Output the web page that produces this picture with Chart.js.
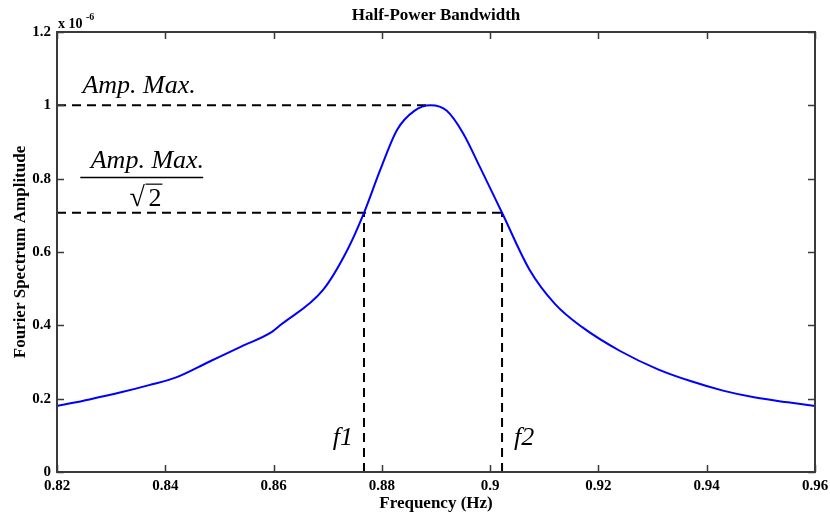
<!DOCTYPE html>
<html>
<head>
<meta charset="utf-8">
<script src="https://cdn.jsdelivr.net/npm/chart.js@4.4.0/dist/chart.umd.min.js"></script>
<style>
  html, body { margin: 0; padding: 0; background: #fff; }
  #wrap { width: 830px; height: 517px; }
</style>
</head>
<body>
<div id="wrap"><canvas id="chartHalfPower"></canvas></div>
<script>
// frequency (Hz) and amplitude (x 1e-6)
const freq = [0.82, 0.826, 0.832, 0.837, 0.842, 0.848, 0.854, 0.8597, 0.8612, 0.8691, 0.8736, 0.8767, 0.8797, 0.8828, 0.886, 0.889, 0.892, 0.895, 0.8981, 0.9022, 0.9073, 0.912, 0.917, 0.924, 0.931, 0.937, 0.943, 0.949, 0.955, 0.96];
const amp = [0.18, 0.198, 0.218, 0.237, 0.258, 0.300, 0.342, 0.382, 0.40, 0.496, 0.605, 0.707, 0.824, 0.933, 0.985, 1.0, 0.985, 0.924, 0.832, 0.707, 0.551, 0.458, 0.395, 0.330, 0.280, 0.248, 0.222, 0.203, 0.190, 0.18];

const ampMax = 1.0;
const fPeak = 0.889;
const halfPower = 0.707;
const f1 = 0.8767;
const f2 = 0.9022;

const xTicks = [0.82, 0.84, 0.86, 0.88, 0.9, 0.92, 0.94, 0.96];
const xTickLabels = ['0.82', '0.84', '0.86', '0.88', '0.9', '0.92', '0.94', '0.96'];
const yTicks = [0, 0.2, 0.4, 0.6, 0.8, 1, 1.2];
const yTickLabels = ['0', '0.2', '0.4', '0.6', '0.8', '1', '1.2'];

const serif = '"Liberation Serif", "Times New Roman", serif';

const curve = freq.map((f, i) => ({x: f, y: amp[i]}));
const dashed = (pts) => ({
    data: pts,
    borderColor: '#000',
    borderWidth: 2,
    borderDash: [9, 6],
    pointRadius: 0,
    tension: 0,
    fill: false
});

// frame, inward ticks and text labels in MATLAB style
const matlabPlugin = {
    id: 'matlabPlugin',
    afterDraw(chart) {
        const {ctx, chartArea: a, scales: {x, y}} = chart;
        ctx.save();
        ctx.strokeStyle = '#3a3a3a';
        ctx.lineWidth = 2;
        ctx.strokeRect(a.left, a.top, a.right - a.left, a.bottom - a.top);
        ctx.lineWidth = 1.5;
        ctx.beginPath();
        xTicks.forEach(v => {
            const px = Math.round(x.getPixelForValue(v)) + 0.5;
            ctx.moveTo(px, a.bottom); ctx.lineTo(px, a.bottom - 7);
            ctx.moveTo(px, a.top); ctx.lineTo(px, a.top + 7);
        });
        yTicks.forEach(v => {
            const py = Math.round(y.getPixelForValue(v)) + 0.5;
            ctx.moveTo(a.left, py); ctx.lineTo(a.left + 7, py);
            ctx.moveTo(a.right, py); ctx.lineTo(a.right - 7, py);
        });
        ctx.stroke();

        ctx.fillStyle = '#000';
        // title
        ctx.font = 'bold 17px ' + serif;
        ctx.textAlign = 'center';
        ctx.textBaseline = 'alphabetic';
        ctx.fillText('Half-Power Bandwidth', (a.left + a.right) / 2, 20);

        // exponent label
        ctx.textAlign = 'left';
        ctx.font = 'bold 14px ' + serif;
        ctx.fillText('x 10', a.left + 1, a.top - 4);
        ctx.font = 'bold 10px ' + serif;
        ctx.fillText('-6', a.left + 29, a.top - 12);

        // annotations
        ctx.font = 'italic 26px ' + serif;
        ctx.fillText('Amp. Max.', x.getPixelForValue(0.8247), y.getPixelForValue(1.035));

        ctx.textAlign = 'center';
        const cx = x.getPixelForValue(0.8367);
        ctx.fillText('Amp. Max.', cx, y.getPixelForValue(0.83));
        const lineY = Math.round(y.getPixelForValue(0.805)) + 0.5;
        ctx.lineWidth = 1.5;
        ctx.strokeStyle = '#000';
        ctx.beginPath();
        ctx.moveTo(x.getPixelForValue(0.8243), lineY);
        ctx.lineTo(x.getPixelForValue(0.8470), lineY);
        ctx.stroke();
        ctx.font = '28px ' + serif;
        const base2 = y.getPixelForValue(0.725);
        ctx.textAlign = 'left';
        ctx.fillText('\u221A', cx - 18, base2);
        ctx.font = '26px ' + serif;
        ctx.fillText('2', cx + 1, base2);
        ctx.lineWidth = 1.2;
        ctx.beginPath();
        ctx.moveTo(cx - 2, base2 - 22);
        ctx.lineTo(cx + 15, base2 - 22);
        ctx.stroke();

        ctx.font = 'italic 26px ' + serif;
        ctx.textAlign = 'right';
        ctx.fillText('f1', x.getPixelForValue(f1) - 11, y.getPixelForValue(0.075));
        ctx.textAlign = 'left';
        ctx.fillText('f2', x.getPixelForValue(f2) + 12, y.getPixelForValue(0.075));
        ctx.restore();
    }
};

const ctx = document.getElementById('chartHalfPower');

new Chart(ctx, {
    type: 'line',
    data: {
        datasets: [
            {
                data: curve,
                borderColor: '#0000ff',
                borderWidth: 2,
                pointRadius: 0,
                cubicInterpolationMode: 'monotone',
                fill: false
            },
            dashed([{x: 0.82, y: ampMax}, {x: fPeak, y: ampMax}]),
            dashed([{x: 0.82, y: halfPower}, {x: f2, y: halfPower}]),
            dashed([{x: f1, y: 0}, {x: f1, y: halfPower}]),
            dashed([{x: f2, y: 0}, {x: f2, y: halfPower}])
        ]
    },
    options: {
        responsive: true,
        maintainAspectRatio: false,
        animation: false,
        layout: {
            padding: {top: 32, right: 15, left: 0, bottom: 0}
        },
        plugins: {
            legend: {display: false},
            tooltip: {enabled: false},
            title: {display: false}
        },
        scales: {
            x: {
                type: 'linear',
                min: 0.82,
                max: 0.96,
                afterBuildTicks: (scale) => { scale.ticks = xTicks.map(v => ({value: v})); },
                afterFit: (scale) => { scale.height = 45; scale.paddingLeft = 0; scale.paddingRight = 0; },
                grid: {display: false, drawTicks: false},
                border: {display: false},
                ticks: {
                    color: '#000',
                    padding: 5,
                    maxRotation: 0,
                    font: {family: serif, size: 15, weight: 'bold'},
                    callback: (v) => xTickLabels[xTicks.indexOf(v)]
                },
                title: {
                    display: true,
                    text: 'Frequency (Hz)',
                    color: '#000',
                    padding: {top: 0, bottom: 3},
                    font: {family: serif, size: 17, weight: 'bold'}
                }
            },
            y: {
                min: 0,
                max: 1.2,
                afterBuildTicks: (scale) => { scale.ticks = yTicks.map(v => ({value: v})); },
                afterFit: (scale) => { scale.width = 57; scale.paddingTop = 0; scale.paddingBottom = 0; },
                grid: {display: false, drawTicks: false},
                border: {display: false},
                ticks: {
                    color: '#000',
                    padding: 6,
                    font: {family: serif, size: 15, weight: 'bold'},
                    callback: (v) => yTickLabels[yTicks.indexOf(v)]
                },
                title: {
                    display: true,
                    text: 'Fourier Spectrum Amplitude',
                    color: '#000',
                    padding: {top: 10, bottom: 0},
                    font: {family: serif, size: 17, weight: 'bold'}
                }
            }
        }
    },
    plugins: [matlabPlugin]
});
</script>
</body>
</html>
